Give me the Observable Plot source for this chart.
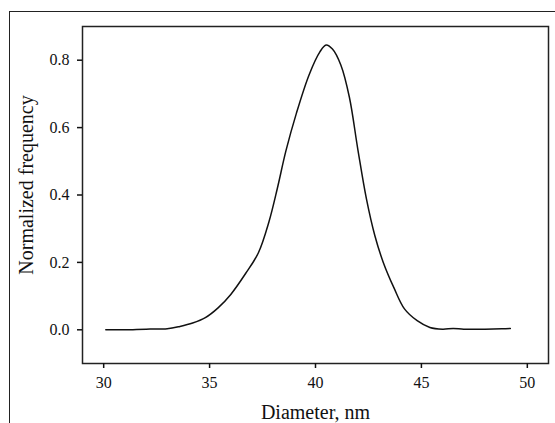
<!DOCTYPE html>
<html>
<head>
<meta charset="utf-8">
<script src="https://cdn.jsdelivr.net/npm/d3@7"></script>
<script src="https://cdn.jsdelivr.net/npm/@observablehq/plot@0.6"></script>
<style>
  html, body { margin: 0; padding: 0; background: #fff; }
  #wrap { position: relative; width: 555px; height: 423px; overflow: hidden; }
  #outer { position: absolute; left: 9px; top: 11px; width: 600px; height: 500px;
           border-top: 1.5px solid #222; border-left: 1.5px solid #222; }
  #chart { position: absolute; left: 0; top: 0; }
  #chart svg text { font-family: 'Liberation Serif', 'Times New Roman', serif; font-size: 16px !important; }
  #chart svg g[aria-label$="axis label"] text { font-size: 20px !important; }
</style>
</head>
<body>
<div id="wrap"><div id="outer"></div><div id="chart"></div></div>
<script>
const diameter = [30.1, 31.0, 32.0, 33.0, 33.6, 34.2, 34.8, 35.4, 36.0, 36.7, 37.3, 37.8, 38.2, 38.6, 39.1, 39.7, 40.2, 40.5, 40.8, 41.2, 41.6, 42.0, 42.4, 42.8, 43.2, 43.7, 44.2, 44.8, 45.4, 46.0, 46.5, 47.0, 48.0, 48.8, 49.2];
const frequency = [0.000, 0.000, 0.002, 0.003, 0.010, 0.020, 0.036, 0.065, 0.105, 0.167, 0.228, 0.320, 0.420, 0.530, 0.643, 0.757, 0.824, 0.845, 0.833, 0.785, 0.690, 0.535, 0.390, 0.280, 0.200, 0.125, 0.062, 0.027, 0.007, 0.002, 0.004, 0.002, 0.002, 0.003, 0.004];
const xTicks = [30, 35, 40, 45, 50];
const yTicks = [0.0, 0.2, 0.4, 0.6, 0.8];

const data = diameter.map((d, i) => ({d, f: frequency[i]}));

const chart = Plot.plot({
  width: 555,
  height: 423,
  marginLeft: 82,
  marginRight: 7,
  marginTop: 26,
  marginBottom: 60,
  style: {fontFamily: "'Liberation Serif', 'Times New Roman', serif", fontSize: "16px", color: "#111", background: "transparent"},
  x: {domain: [29, 51]},
  y: {domain: [-0.1, 0.9]},
  marks: [
    Plot.frame({stroke: "#222", strokeWidth: 1.5}),
    Plot.axisX({ticks: xTicks, tickSize: 5, tickPadding: 8, tickFormat: d => String(d), fontSize: 16, strokeWidth: 1.5,
      label: "Diameter, nm", labelAnchor: "center", labelArrow: "none", labelOffset: 55}),
    Plot.axisY({ticks: yTicks, tickSize: 5, tickPadding: 8, tickFormat: d3.format(".1f"), fontSize: 16, strokeWidth: 1.5,
      label: "Normalized frequency", labelAnchor: "center", labelArrow: "none", labelOffset: 64}),
    Plot.line(data, {x: "d", y: "f", stroke: "#111", strokeWidth: 1.5, curve: "catmull-rom"})
  ]
});
const yLabel = chart.querySelector("g[aria-label='y-axis label']");
if (yLabel) {
  const tr = yLabel.getAttribute("transform") || "";
  yLabel.setAttribute("transform", "translate(0,-10) " + tr);
}
document.getElementById("chart").appendChild(chart);
</script>
</body>
</html>
